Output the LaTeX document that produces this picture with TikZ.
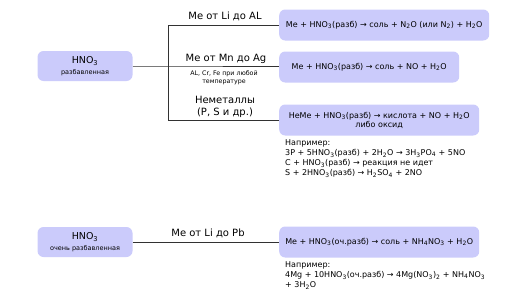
\documentclass[tikz,border=0pt]{standalone}
\usepackage{fontspec}
\setmainfont{DejaVu Sans}
\newcommand{\arr}{→}
\newcommand{\ix}[1]{\textsubscript{#1}}
\definecolor{boxfill}{RGB}{203,203,251}
\definecolor{linegray}{RGB}{50,50,50}
\usetikzlibrary{positioning}

\begin{document}
\begin{tikzpicture}[
    x=1pt, y=-1pt,
    acid/.style={fill=boxfill, rounded corners=6pt, minimum width=95pt, minimum height=30pt, align=center, inner sep=2pt},
    react/.style={fill=boxfill, rounded corners=6pt, minimum height=31pt, align=center, inner sep=4pt, font=\fontsize{8}{9}\selectfont, anchor=west},
    branch/.style={draw=linegray, line width=0.8pt},
    cond/.style={font=\fontsize{10}{12.5}\selectfont, align=center},
    note/.style={font=\fontsize{8}{10.3}\selectfont, align=left, anchor=north west, inner sep=0pt},
]
\useasboundingbox (0,0) rectangle (516,289);

% Кислоты
\node[acid] (dil) at (85,66) {{\fontsize{9.5}{11}\selectfont HNO\ix{3}}\\[-1pt]{\fontsize{6.5}{7}\selectfont разбавленная}};
\node[acid] (vdil) at (85,242) {{\fontsize{9.5}{11}\selectfont HNO\ix{3}}\\[-1pt]{\fontsize{6.5}{7}\selectfont очень разбавленная}};

% Реакции
\node[react, minimum width=210pt] (rLi) at (279,25) {Me + HNO\ix{3}(разб) \arr{} соль + N\ix{2}O (или N\ix{2}) + H\ix{2}O};
\node[react, minimum width=180pt] (rMn) at (279,67) {Me + HNO\ix{3}(разб) \arr{} соль + NO + H\ix{2}O};
\node[react, minimum width=200pt, inner ysep=2pt] (rNM) at (279,120) {НеМе + HNO\ix{3}(разб) \arr{} кислота + NO + H\ix{2}O\\либо оксид};
\node[react, minimum width=200pt] (rPb) at (279,242) {Me + HNO\ix{3}(оч.разб) \arr{} соль + NH\ix{4}NO\ix{3} + H\ix{2}O};

% Ветвление
\coordinate (t1) at (168,25);
\coordinate (t2) at (168,66);
\coordinate (t3) at (168,120);
\draw[branch] (t1) -- (t3);
\draw[branch] (dil.east |- t2) -- (t2) -- (rMn.west |- t2);
\draw[branch] (t1) -- (rLi.west);
\draw[branch] (t3) -- (rNM.west);
\draw[branch] (vdil.east) -- (rPb.west);

% Подписи
\node[cond] (cLi) at (225,16) {Me от Li до AL};
\node[cond] (cMn) at (226,59) {Me от Mn до Ag};
\node[font=\fontsize{6.3}{8}\selectfont, align=center] (cMn2) at (224,77.5) {AL, Cr, Fe при любой\\температуре};
\node[cond] (cNM) at (225,107) {Неметаллы\\(P, S и др.)};
\node[cond] (cPb) at (208,233) {Me от Li до Pb};

% Примеры
\node[note] (ex1) at (285,139) {Например:\\3P + 5HNO\ix{3}(разб) + 2H\ix{2}O \arr{} 3H\ix{3}PO\ix{4} + 5NO\\C + HNO\ix{3}(разб) \arr{} реакция не идет\\S + 2HNO\ix{3}(разб) \arr{} H\ix{2}SO\ix{4} + 2NO};
\node[note] (ex2) at (285,261) {Например:\\4Mg + 10HNO\ix{3}(оч.разб) \arr{} 4Mg(NO\ix{3})\ix{2} + NH\ix{4}NO\ix{3}\\+ 3H\ix{2}O};

\end{tikzpicture}
\end{document}
